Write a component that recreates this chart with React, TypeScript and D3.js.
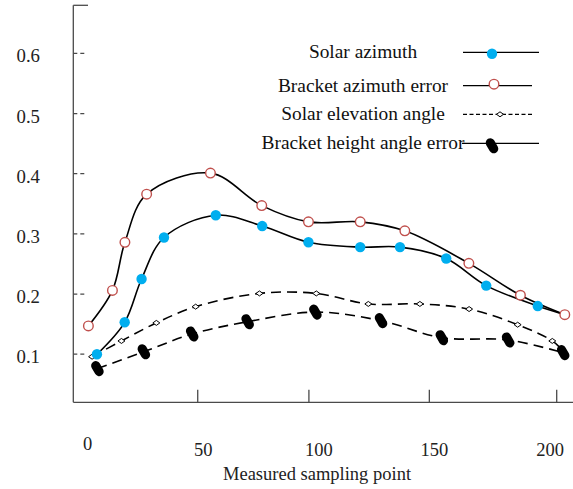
import React from 'react';
import * as d3 from 'd3';

const W = 573;
const H = 489;

// x tick labels and the (oddly placed) tick marks on the bottom axis
const xTickLabels = [0, 50, 100, 150, 200];
const xTickMarks = [47.6, 95.7, 147.8, 202.9];
const yTicks = [0.1, 0.2, 0.3, 0.4, 0.5, 0.6];

// Solar azimuth (blue dots); last line point has no marker
const azimuthX = [4.0, 16.0, 23.3, 33.0, 55.4, 75.5, 95.5, 117.9, 135.1, 155.1, 172.4, 194.7];
const azimuthY = [0.0998, 0.153, 0.225, 0.294, 0.331, 0.313, 0.286, 0.278, 0.278, 0.259, 0.214, 0.18];
const azimuthEnd = [206.4, 0.1657];

// Bracket azimuth error (red open circles)
const bracketAzX = [0.3, 10.7, 16.1, 25.5, 53.1, 75.3, 95.5, 117.9, 137.2, 164.9, 187.2, 206.4];
const bracketAzY = [0.147, 0.206, 0.286, 0.366, 0.401, 0.347, 0.32, 0.32, 0.305, 0.251, 0.198, 0.1657];

// Solar elevation angle (dashed, small diamonds)
const elevationX = [1.9, 14.6, 29.7, 46.7, 74.3, 98.9, 121.4, 143.7, 165.0, 186.0, 201.0];
const elevationY = [0.0958, 0.122, 0.152, 0.179, 0.201, 0.201, 0.1835, 0.1835, 0.175, 0.149, 0.122];
const elevationEnd = [206.5, 0.102];

// Bracket height angle error (dashed, black capsules)
const bracketHX = [4.2, 24.3, 45.2, 69.2, 98.5, 126.9, 153.2, 181.9, 205.7];
const bracketHY = [0.076, 0.104, 0.1336, 0.154, 0.17, 0.1557, 0.1274, 0.1236, 0.1025];

const legendLabels = ['Solar azimuth', 'Bracket azimuth error', 'Solar elevation angle', 'Bracket height angle error'];

const FONT = '"Liberation Serif", "Times New Roman", serif';
const BLUE = '#00AEEF';
const RED = '#C0504D';
const AXIS = '#4a4a4a';

const zip = (xs: number[], ys: number[]) => xs.map((x, i) => [x, ys[i]] as [number, number]);

const BlueDot = ({ x, y }: { x: number; y: number }) => <circle cx={x} cy={y} r={5.2} fill={BLUE} />;
const RedRing = ({ x, y }: { x: number; y: number }) => (
  <circle cx={x} cy={y} r={4.8} fill="#fff" stroke={RED} strokeWidth={1.4} />
);
const Diamond = ({ x, y }: { x: number; y: number }) => (
  <path d={`M${x},${y - 2.5}L${x + 3.5},${y}L${x},${y + 2.5}L${x - 3.5},${y}Z`} fill="#fff" stroke="#000" strokeWidth={1} />
);
const Capsule = ({ x, y }: { x: number; y: number }) => (
  <rect x={-4.6} y={-8} width={9.2} height={16} rx={4.6} fill="#000" transform={`translate(${x},${y}) rotate(-30)`} />
);

export default function App() {
  const x = d3.scaleLinear().domain([0, 200]).range([87.7, 550]);
  const y = d3.scaleLinear().domain([0.02, 0.68]).range([402.3, 5.3]);

  const axisX = 73.3;
  const axisY = y(0.02);
  const axisTop = y(0.68);

  const smooth = d3.line<[number, number]>()
    .x(d => x(d[0]))
    .y(d => y(d[1]))
    .curve(d3.curveCatmullRom.alpha(0.5));

  const azimuth = zip(azimuthX, azimuthY);
  const bracketAz = zip(bracketAzX, bracketAzY);
  const elevation = zip(elevationX, elevationY);
  const bracketH = zip(bracketHX, bracketHY);

  const rows = [52.3, 85.7, 114.3, 143.3];
  const legendLine = [[463, 539], [463, 532], [463, 532], [462, 539]];
  const legendMark = [492, 494, 500, 492];

  return (
    <svg width={W} height={H} style={{ position: 'absolute', left: 0, top: 0, background: '#fff' }} fontFamily={FONT}>
      {/* axes */}
      <line x1={axisX} x2={axisX} y1={axisTop} y2={axisY} stroke={AXIS} strokeWidth={1.3} />
      <line x1={axisX} x2={88} y1={axisTop} y2={axisTop} stroke={AXIS} strokeWidth={1.3} />
      <line x1={axisX} x2={W} y1={axisY} y2={axisY} stroke={AXIS} strokeWidth={1.3} />

      {yTicks.map(t => (
        <g key={t}>
          <line x1={axisX} x2={axisX + 13} y1={y(t)} y2={y(t)} stroke={AXIS} strokeWidth={1.2} strokeDasharray="4,3" />
          <text x={40} y={y(t) + 2.5} textAnchor="end" dominantBaseline="central" fontSize={18.8} fill="#222">
            {t.toFixed(1)}
          </text>
        </g>
      ))}

      {xTickMarks.map(t => (
        <line key={t} x1={x(t)} x2={x(t)} y1={axisY} y2={axisY - 12.5} stroke={AXIS} strokeWidth={1.3} />
      ))}
      {xTickLabels.map(t => (
        <text key={t} x={x(t)} y={t === 0 ? 444 : 449.7} textAnchor="middle" dominantBaseline="central" fontSize={18.5} fill="#222">
          {t}
        </text>
      ))}
      <text x={317} y={480} textAnchor="middle" fontSize={18.5} fill="#222">Measured sampling point</text>

      {/* series lines */}
      <path d={smooth(bracketAz) || ''} fill="none" stroke="#000" strokeWidth={1.6} />
      <path d={smooth([...azimuth, azimuthEnd as [number, number]]) || ''} fill="none" stroke="#000" strokeWidth={1.6} />
      <path d={smooth([...elevation, elevationEnd as [number, number]]) || ''} fill="none" stroke="#000" strokeWidth={1.6} strokeDasharray="10,6" />
      <path d={smooth(bracketH) || ''} fill="none" stroke="#000" strokeWidth={1.6} strokeDasharray="10,6" />

      {/* markers */}
      {elevation.map((d, i) => <Diamond key={i} x={x(d[0])} y={y(d[1])} />)}
      {bracketAz.map((d, i) => <RedRing key={i} x={x(d[0])} y={y(d[1])} />)}
      {azimuth.map((d, i) => <BlueDot key={i} x={x(d[0])} y={y(d[1])} />)}
      {bracketH.map((d, i) => <Capsule key={i} x={x(d[0])} y={y(d[1])} />)}

      {/* legend */}
      {legendLabels.map((label, i) => (
        <g key={label}>
          <text x={363} y={rows[i] + 6} textAnchor="middle" fontSize={19.4} fill="#111">{label}</text>
          <line
            x1={legendLine[i][0]}
            x2={legendLine[i][1]}
            y1={rows[i]}
            y2={rows[i]}
            stroke="#000"
            strokeWidth={1.2}
            strokeDasharray={i === 2 ? '4,2.5' : undefined}
          />
          {i === 0 && <BlueDot x={legendMark[i]} y={rows[i] + 1.5} />}
          {i === 1 && <RedRing x={legendMark[i]} y={rows[i] - 1.5} />}
          {i === 2 && <Diamond x={legendMark[i]} y={rows[i]} />}
          {i === 3 && <Capsule x={legendMark[i]} y={rows[i] + 2.5} />}
        </g>
      ))}
    </svg>
  );
}
